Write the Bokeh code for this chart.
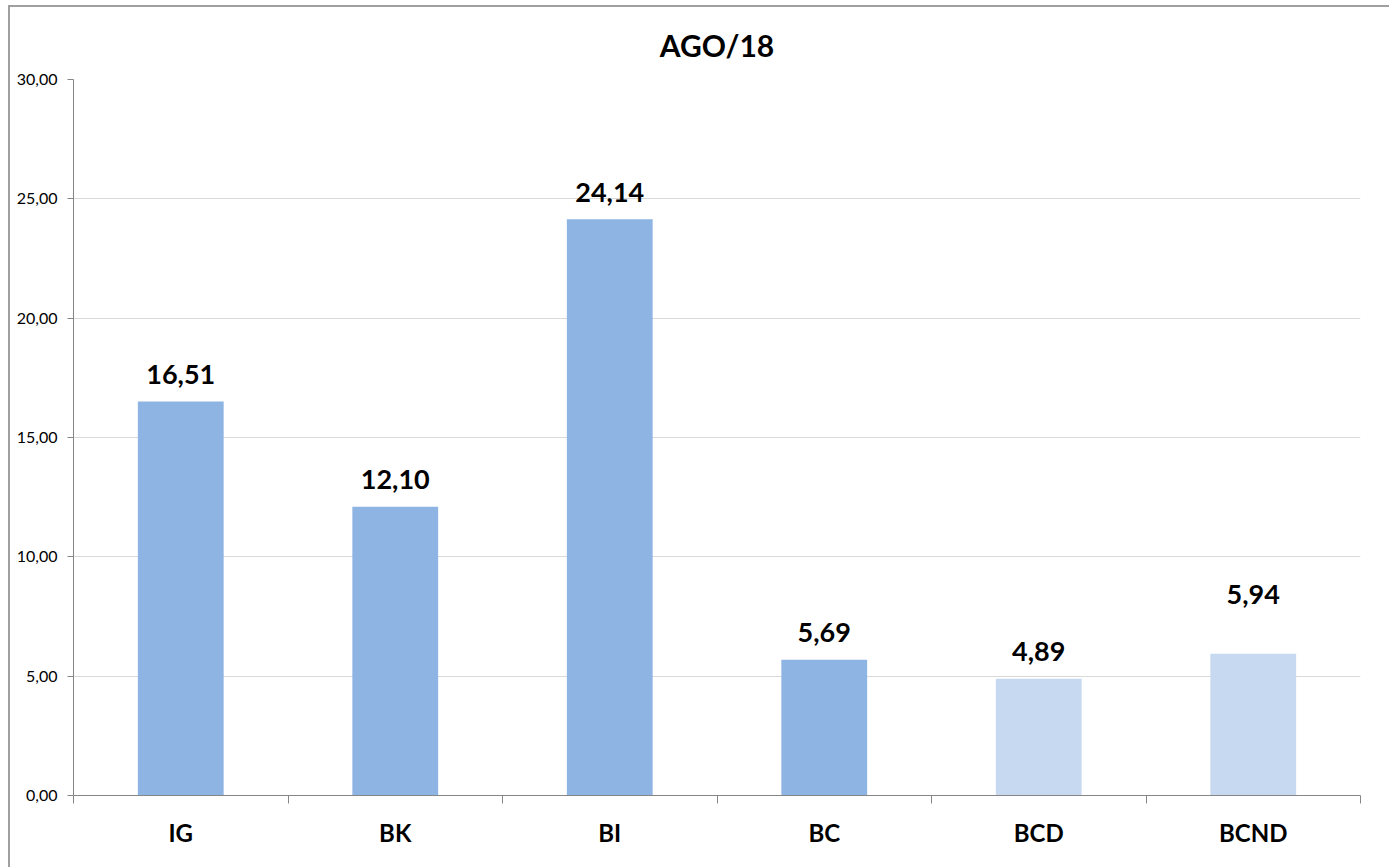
from bokeh.plotting import figure
from bokeh.models import ColumnDataSource, FixedTicker, Range1d
from bokeh.embed import file_html
from bokeh.resources import INLINE
from bokeh.core.properties import value

categories = ["IG", "BK", "BI", "BC", "BCD", "BCND"]
values = [16.51, 12.10, 24.14, 5.69, 4.89, 5.94]
value_labels = ["16,51", "12,10", "24,14", "5,69", "4,89", "5,94"]
colors = ["#8EB4E3", "#8EB4E3", "#8EB4E3", "#8EB4E3", "#C6D9F1", "#C6D9F1"]
label_offsets = [-27, -27, -27, -27, -27, -59]
y_ticks = [0, 5, 10, 15, 20, 25, 30]
y_tick_labels = ["0,00", "5,00", "10,00", "15,00", "20,00", "25,00", "30,00"]
title_text = "AGO/18"

FONT = "Lato"
xs = [i + 0.5 for i in range(len(categories))]

src = ColumnDataSource(dict(x=xs, top=values, lab=value_labels, color=colors, off=label_offsets))

p = figure(width=1381, height=862, output_backend="svg", toolbar_location=None,
           x_range=Range1d(0, len(categories)), y_range=Range1d(0, 30),
           min_border_left=63, min_border_right=31, min_border_top=70, min_border_bottom=74)
p.styles = {"border-top": "2px solid #a0a0a0", "border-left": "2px solid #a0a0a0",
            "box-sizing": "border-box", "margin-left": "8px", "margin-top": "5px"}

p.title.text = title_text
p.title.align = "center"
p.title.text_font = FONT
p.title.text_font_size = "30px"
p.title.text_font_style = "bold"
p.title.text_color = "#000000"
p.title.standoff = 34

p.vbar(x="x", top="top", width=0.4, bottom=0, color="color", line_color=None, source=src)
p.text(x="x", y="top", text="lab", y_offset="off", source=src,
       text_align="center", text_baseline="alphabetic",
       text_font=value(FONT), text_font_style="bold", text_font_size="27px", text_color="#000000")

p.outline_line_color = None
p.xgrid.grid_line_color = None
p.ygrid.grid_line_color = "#D9D9D9"
p.ygrid.ticker = FixedTicker(ticks=y_ticks)

ya = p.yaxis[0]
ya.ticker = FixedTicker(ticks=y_ticks)
ya.major_label_overrides = {t: l for t, l in zip(y_ticks, y_tick_labels)}
ya.major_label_text_font = FONT
ya.major_label_text_font_size = "16px"
ya.major_label_text_color = "#000000"
ya.axis_line_color = "#868686"
ya.major_tick_line_color = "#868686"
ya.major_tick_out = 6
ya.major_tick_in = 0
ya.minor_tick_line_color = None
ya.major_label_standoff = 10

xa = p.xaxis[0]
xa.ticker = FixedTicker(ticks=xs, minor_ticks=list(range(len(categories) + 1)))
xa.major_label_overrides = {x: c for x, c in zip(xs, categories)}
xa.major_label_text_font = FONT
xa.major_label_text_font_size = "24px"
xa.major_label_text_font_style = "bold"
xa.major_label_text_color = "#000000"
xa.axis_line_color = "#868686"
xa.major_tick_line_color = None
xa.minor_tick_line_color = "#868686"
xa.minor_tick_out = 8
xa.minor_tick_in = 0
xa.major_label_standoff = 14

open("out.html", "w").write(file_html(p, INLINE))
